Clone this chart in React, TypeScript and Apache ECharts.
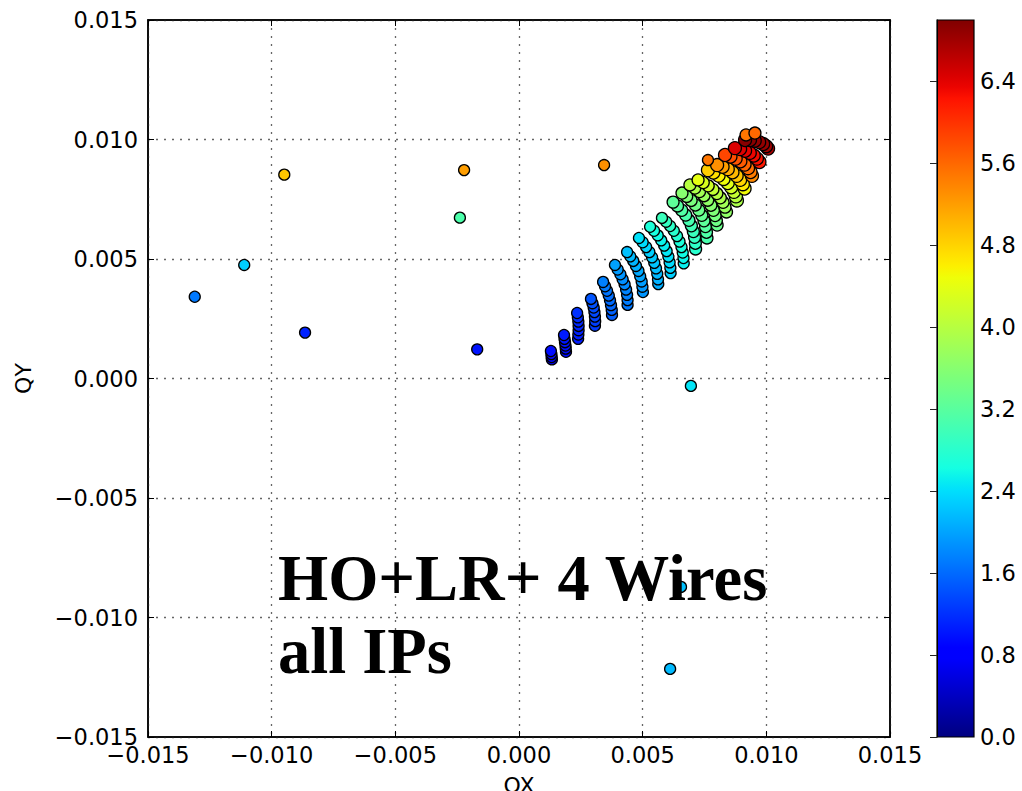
import React, { useEffect, useRef } from "react";
import * as echarts from "echarts";

// Axis ticks
const axisMin = -0.015;
const axisMax = 0.015;
const axisStep = 0.005;
const colorMin = 0;
const colorMax = 7;
const colorStep = 0.8;

// Each arc listed from its top point to its bottom point: [OX, QY, value]
const arc01 = [[0.00129, 0.00115, 0.95], [0.00131, 0.00102, 0.92], [0.00132, 0.0009, 0.9], [0.00133, 0.0008, 0.88]];
const arc02 = [[0.00182, 0.00182, 1.05], [0.00184, 0.00166, 1.02], [0.00186, 0.00152, 1.0], [0.00188, 0.00138, 0.98], [0.00189, 0.00125, 0.96], [0.0019, 0.00112, 0.94]];
const arc03 = [[0.00235, 0.00274, 1.2], [0.00238, 0.00256, 1.17], [0.0024, 0.00238, 1.14], [0.00241, 0.0022, 1.12], [0.00241, 0.00202, 1.1], [0.0024, 0.00184, 1.08], [0.00239, 0.00166, 1.06]];
const arc04 = [[0.00291, 0.00333, 1.45], [0.00297, 0.00315, 1.42], [0.00302, 0.00297, 1.39], [0.00305, 0.00278, 1.36], [0.00307, 0.00259, 1.33], [0.00308, 0.0024, 1.3], [0.00307, 0.00221, 1.28]];
const arc05 = [[0.0034, 0.00404, 1.75], [0.00348, 0.00386, 1.71], [0.00356, 0.00367, 1.67], [0.00363, 0.00347, 1.63], [0.00368, 0.00327, 1.6], [0.00372, 0.00307, 1.57], [0.00375, 0.00287, 1.54], [0.00376, 0.00266, 1.51]];
const arc06 = [[0.00388, 0.00475, 1.98], [0.00399, 0.00456, 1.94], [0.0041, 0.00436, 1.9], [0.00419, 0.00415, 1.86], [0.00427, 0.00394, 1.82], [0.00433, 0.00372, 1.78], [0.00437, 0.0035, 1.75], [0.00439, 0.00328, 1.72], [0.00439, 0.00308, 1.69]];
const arc07 = [[0.00437, 0.00529, 2.2], [0.0045, 0.00511, 2.16], [0.00462, 0.00492, 2.12], [0.00473, 0.00471, 2.08], [0.00483, 0.0045, 2.04], [0.0049, 0.00428, 2.0], [0.00496, 0.00406, 1.96], [0.00499, 0.00384, 1.93], [0.00501, 0.00362, 1.9]];
const arc08 = [[0.00485, 0.00588, 2.42], [0.005, 0.0057, 2.38], [0.00514, 0.0055, 2.34], [0.00527, 0.00529, 2.3], [0.00538, 0.00507, 2.26], [0.00547, 0.00484, 2.22], [0.00554, 0.00461, 2.18], [0.00559, 0.00438, 2.14], [0.00562, 0.00415, 2.1], [0.00563, 0.00395, 2.07]];
const arc09 = [[0.0053, 0.00635, 2.7], [0.00546, 0.00618, 2.65], [0.00561, 0.00599, 2.6], [0.00575, 0.00578, 2.55], [0.00587, 0.00556, 2.5], [0.00597, 0.00533, 2.46], [0.00604, 0.0051, 2.42], [0.00609, 0.00486, 2.38], [0.00612, 0.00463, 2.34], [0.00613, 0.00441, 2.3]];
const arc10 = [[0.00578, 0.00672, 2.95], [0.00595, 0.00656, 2.9], [0.00611, 0.00638, 2.85], [0.00626, 0.00618, 2.8], [0.00639, 0.00596, 2.75], [0.00649, 0.00573, 2.7], [0.00657, 0.0055, 2.65], [0.00662, 0.00527, 2.6], [0.00665, 0.00504, 2.56], [0.00666, 0.00482, 2.52]];
const arc11 = [[0.00623, 0.00738, 3.25], [0.00641, 0.00722, 3.2], [0.00658, 0.00704, 3.15], [0.00674, 0.00684, 3.1], [0.00687, 0.00662, 3.05], [0.00697, 0.00639, 3.0], [0.00705, 0.00615, 2.95], [0.0071, 0.00591, 2.9], [0.00713, 0.00566, 2.85], [0.00714, 0.00542, 2.8]];
const arc12 = [[0.00659, 0.00776, 3.6], [0.00678, 0.00762, 3.54], [0.00696, 0.00745, 3.48], [0.00713, 0.00726, 3.42], [0.00727, 0.00705, 3.36], [0.00739, 0.00683, 3.3], [0.00748, 0.0066, 3.24], [0.00754, 0.00636, 3.18], [0.00758, 0.00612, 3.12], [0.0076, 0.00588, 3.07]];
const arc13 = [[0.00691, 0.0081, 4.0], [0.00711, 0.00797, 3.92], [0.0073, 0.00782, 3.84], [0.00748, 0.00765, 3.76], [0.00763, 0.00746, 3.68], [0.00776, 0.00725, 3.6], [0.00786, 0.00704, 3.53], [0.00793, 0.00682, 3.46], [0.00798, 0.00661, 3.4], [0.00801, 0.00642, 3.35]];
const arc14 = [[0.00724, 0.00831, 4.4], [0.00745, 0.0082, 4.3], [0.00765, 0.00806, 4.2], [0.00784, 0.00791, 4.1], [0.008, 0.00774, 4.0], [0.00814, 0.00756, 3.9], [0.00825, 0.00737, 3.82], [0.00833, 0.00717, 3.75], [0.00839, 0.00697, 3.68]];
const arc15 = [[0.00764, 0.00872, 4.85], [0.00786, 0.00862, 4.72], [0.00807, 0.00849, 4.6], [0.00827, 0.00835, 4.48], [0.00844, 0.00818, 4.36], [0.00858, 0.008, 4.24], [0.00869, 0.00781, 4.12], [0.00877, 0.00762, 4.0], [0.00881, 0.00745, 3.9]];
const arc16 = [[0.00801, 0.00893, 5.3], [0.00823, 0.00886, 5.2], [0.00844, 0.00876, 5.1], [0.00863, 0.00863, 5.0], [0.0088, 0.00848, 4.9], [0.00894, 0.00831, 4.8], [0.00905, 0.00813, 4.65], [0.00912, 0.00795, 4.5]];
const arc17 = [[0.00833, 0.00935, 5.85], [0.00855, 0.00929, 5.8], [0.00876, 0.0092, 5.75], [0.00895, 0.00909, 5.7], [0.00912, 0.00895, 5.62], [0.00926, 0.0088, 5.55], [0.00936, 0.00864, 5.45], [0.00942, 0.00848, 5.35]];
const arc18 = [[0.00873, 0.00964, 6.45], [0.00894, 0.0096, 6.42], [0.00914, 0.00953, 6.38], [0.00933, 0.00944, 6.34], [0.00949, 0.00933, 6.3], [0.00962, 0.0092, 6.25], [0.00972, 0.00906, 6.2]];
const arc19 = [[0.00914, 0.00998, 6.95], [0.00934, 0.00998, 6.95], [0.00953, 0.00995, 6.9], [0.00971, 0.00989, 6.88], [0.00987, 0.00981, 6.85], [0.00999, 0.00972, 6.8], [0.01007, 0.00962, 6.75]];

const topPoints = [[0.00918, 0.01019, 5.5], [0.00954, 0.01027, 5.6]];

const outliers = [
  [-0.01311, 0.00342, 1.7],
  [-0.01111, 0.00475, 2.3],
  [-0.00949, 0.00853, 4.9],
  [-0.00865, 0.00192, 1.1],
  [-0.00222, 0.00872, 5.2],
  [-0.00239, 0.00673, 3.1],
  [-0.00169, 0.00122, 1.0],
  [0.00344, 0.00893, 5.3],
  [0.00695, -0.00031, 2.45],
  [0.00655, -0.00872, 2.2],
  [0.00611, -0.01215, 2.15],
  [0.00764, 0.00914, 5.5],
];

const lowerArcs = [arc01, arc02, arc03, arc04, arc05, arc06, arc07, arc08, arc09, arc10];
const middleArcs = [arc11, arc12, arc13, arc14];
const upperArcs = [arc15, arc16, arc17, arc18, arc19];

const annotationLines = ["HO+LR+ 4 Wires", "all IPs"];

// matplotlib "jet" colormap
function jet(t: number): string {
  const clamp = (v: number) => Math.max(0, Math.min(1, v));
  let r = 0, g = 0, b = 0;
  if (t < 0.35) r = 0;
  else if (t < 0.66) r = (t - 0.35) / 0.31;
  else if (t < 0.89) r = 1;
  else r = 1 - (0.5 * (t - 0.89)) / 0.11;
  if (t < 0.125) g = 0;
  else if (t < 0.375) g = (t - 0.125) / 0.25;
  else if (t < 0.64) g = 1;
  else if (t < 0.91) g = 1 - (t - 0.64) / 0.27;
  else g = 0;
  if (t < 0.11) b = 0.5 + (0.5 * t) / 0.11;
  else if (t < 0.34) b = 1;
  else if (t < 0.65) b = 1 - (t - 0.34) / 0.31;
  else b = 0;
  const to = (v: number) => Math.round(clamp(v) * 255);
  return `rgb(${to(r)},${to(g)},${to(b)})`;
}

const jetColors: string[] = [];
for (let i = 0; i <= 64; i++) jetColors.push(jet(i / 64));

const fmtAxis = (v: number) => {
  if (Math.abs(v) < 1e-9) return "0.000";
  return (v < 0 ? "\u2212" : "") + Math.abs(v).toFixed(3);
};

const flattenArcs = (arcs: number[][][]) => {
  const out: number[][] = [];
  arcs.forEach((arc) => {
    // draw bottom first so that the top point of each arc ends up on top
    for (let i = arc.length - 1; i >= 0; i--) out.push(arc[i]);
  });
  return out;
};

const FONT = "DejaVu Sans";

export default function App() {
  const ref = useRef<HTMLDivElement>(null);
  useEffect(() => {
    if (!ref.current) return;
    const chart = echarts.init(ref.current, undefined, { renderer: "svg" });
    const gridL = 148, gridT = 20, gridW = 742, gridH = 717;
    const cbL = 937, cbW = 37;

    const tickStyle = { show: true, inside: true, length: 6, lineStyle: { color: "#000", width: 1 } };
    const lineStyle = { show: true, onZero: false, lineStyle: { color: "#000", width: 1.5 } };
    const labelStyle = { color: "#000", fontSize: 22.5, fontFamily: FONT };
    const gridLines = { show: true, lineStyle: { color: "#666", type: [2, 6], width: 1.3 } };
    const marker = (size: number, data: number[][]) => ({
      type: "scatter", xAxisIndex: 0, yAxisIndex: 0, symbol: "circle", symbolSize: size,
      itemStyle: { borderColor: "#000", borderWidth: 1.3, opacity: 1 },
      data,
    });

    const option: any = {
      animation: false,
      backgroundColor: "#fff",
      grid: [
        { left: gridL, top: gridT, width: gridW, height: gridH, show: true, borderColor: "#000", borderWidth: 1.5, backgroundColor: "transparent", outerBoundsMode: "none", containLabel: false },
        { left: cbL, top: gridT, width: cbW, height: gridH, show: false, outerBoundsMode: "none", containLabel: false },
      ],
      xAxis: [
        {
          type: "value", gridIndex: 0, position: "bottom", min: axisMin, max: axisMax, interval: axisStep,
          axisLine: lineStyle, axisTick: tickStyle, splitLine: gridLines,
          axisLabel: { ...labelStyle, margin: 6, formatter: fmtAxis },
          name: "OX", nameLocation: "middle", nameGap: 37,
          nameTextStyle: { color: "#000", fontSize: 22, fontFamily: FONT },
        },
        {
          type: "value", gridIndex: 0, position: "top", min: axisMin, max: axisMax, interval: axisStep,
          axisLine: lineStyle, axisTick: tickStyle, splitLine: { show: false }, axisLabel: { show: false },
        },
        { type: "value", gridIndex: 1, min: 0, max: 1, show: false },
      ],
      yAxis: [
        {
          type: "value", gridIndex: 0, position: "left", min: axisMin, max: axisMax, interval: axisStep,
          axisLine: lineStyle, axisTick: tickStyle, splitLine: gridLines,
          axisLabel: { ...labelStyle, margin: 10, formatter: fmtAxis },
          name: "QY", nameLocation: "middle", nameGap: 114, nameRotate: 90,
          nameTextStyle: { color: "#000", fontSize: 22, fontFamily: FONT },
        },
        {
          type: "value", gridIndex: 0, position: "right", min: axisMin, max: axisMax, interval: axisStep,
          axisLine: lineStyle, axisTick: tickStyle, splitLine: { show: false }, axisLabel: { show: false },
        },
        {
          type: "value", gridIndex: 1, position: "right", min: colorMin, max: colorMax, interval: colorStep, z: 5,
          axisLine: { show: true, lineStyle: { color: "#000", width: 1 } },
          axisTick: { show: true, inside: true, length: 7, lineStyle: { color: "#222", width: 1 } },
          splitLine: { show: false },
          axisLabel: { ...labelStyle, margin: 6, showMaxLabel: false, formatter: (v: number) => v.toFixed(1) },
        },
      ],
      visualMap: {
        type: "continuous", show: false, min: colorMin, max: colorMax, dimension: 2,
        seriesIndex: [0, 1, 2, 3, 4], inRange: { color: jetColors },
      },
      graphic: [
        {
          type: "rect", z: -1,
          shape: { x: cbL, y: gridT, width: cbW, height: gridH },
          style: {
            fill: {
              type: "linear", x: 0, y: 0, x2: 0, y2: 1,
              colorStops: jetColors.map((c, i) => ({ offset: 1 - i / (jetColors.length - 1), color: c })).reverse(),
            },
            stroke: "#000", lineWidth: 1.2,
          },
        },
        {
          type: "text", z: 100, left: 278, top: 546,
          style: { text: annotationLines[0], font: 'bold 64.5px "Liberation Serif"', fill: "#000" },
        },
        {
          type: "text", z: 100, left: 278, top: 619,
          style: { text: annotationLines[1], font: 'bold 64.5px "Liberation Serif"', fill: "#000" },
        },
      ],
      series: [
        marker(11, flattenArcs(lowerArcs)),
        marker(12, flattenArcs(middleArcs)),
        marker(13, flattenArcs(upperArcs)),
        marker(12, topPoints),
        marker(11, outliers),
      ],
    };
    chart.setOption(option);
    return () => chart.dispose();
  }, []);
  return <div ref={ref} style={{ position: "absolute", left: 0, top: 0, width: 1022, height: 791 }} />;
}
